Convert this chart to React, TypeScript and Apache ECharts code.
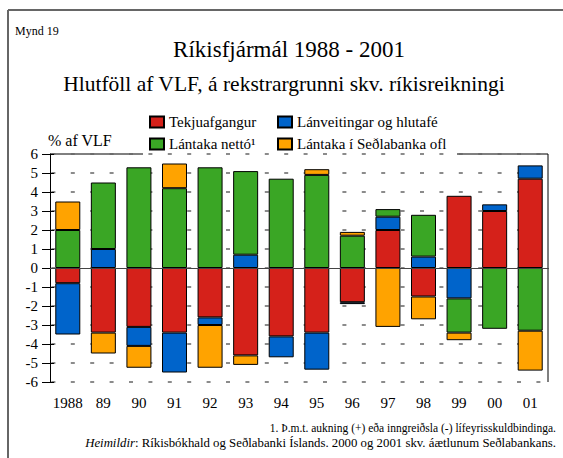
import React, { useEffect, useRef } from "react";
import * as echarts from "echarts";

const categories = ["1988", "89", "90", "91", "92", "93", "94", "95", "96", "97", "98", "99", "00", "01"];
const tekjuafgangur = [-0.8, -3.4, -3.1, -3.4, -2.6, -4.6, -3.6, -3.4, -1.8, 2.0, -1.5, 3.8, 3.0, 4.7];
const lanveitingar = [-2.7, 1.0, -1.0, -2.1, -0.4, 0.7, -1.1, -1.95, -0.1, 0.7, 0.6, -1.6, 0.35, 0.7];
const lantakaNetto = [2.0, 3.5, 5.3, 4.2, 5.3, 4.4, 4.7, 4.9, 1.7, 0.4, 2.2, -1.8, -3.2, -3.3];
const lantakaSedlabanka = [1.5, -1.1, -1.15, 1.3, -2.25, -0.5, null, 0.3, 0.2, -3.1, -1.2, -0.4, null, -2.1];

const seriesNames = ["Tekjuafgangur", "Lánveitingar og hlutafé", "Lántaka nettó¹", "Lántaka í Seðlabanka ofl"];
const seriesColors = ["#D5211A", "#0064CB", "#3AA625", "#FFA300"];
const seriesData = [tekjuafgangur, lanveitingar, lantakaNetto, lantakaSedlabanka];

const FONT = "'Liberation Serif', 'Times New Roman', serif";

export default function App() {
  const ref = useRef<HTMLDivElement>(null);
  useEffect(() => {
    if (!ref.current) return;
    const chart = echarts.init(ref.current, null, { renderer: "svg" });
    const legendText = { fontFamily: FONT, fontSize: 15, color: "#000", lineHeight: 16 };
    const legendBase = {
      orient: "vertical",
      top: 114,
      padding: 0,
      itemWidth: 14,
      itemHeight: 11,
      itemGap: 6,
      icon: "rect",
      textStyle: legendText,
      selectedMode: false,
    };
    chart.setOption({
      animation: false,
      backgroundColor: "#fff",
      textStyle: { fontFamily: FONT },
      grid: { left: 50, right: 15, top: 154, bottom: 76 },
      legend: [
        { ...legendBase, left: 149, data: [seriesNames[0], seriesNames[2]] },
        { ...legendBase, left: 277, data: [seriesNames[1], seriesNames[3]] },
      ],
      xAxis: {
        type: "category",
        data: categories,
        axisLine: { lineStyle: { color: "#000", width: 1 } },
        axisTick: { alignWithLabel: true, inside: true, length: 6, interval: 0, lineStyle: { color: "#000" } },
        axisLabel: { fontFamily: FONT, fontSize: 15, color: "#000", margin: 13, interval: 0 },
        splitLine: { show: false },
      },
      yAxis: [
        {
          type: "value",
          min: -6,
          max: 6,
          interval: 1,
          axisLine: { show: true, lineStyle: { color: "#000", width: 1 } },
          axisTick: { show: true, length: 8, lineStyle: { color: "#000" } },
          axisLabel: { fontFamily: FONT, fontSize: 15, color: "#000", margin: 12 },
          splitLine: {
            show: true,
            lineStyle: { color: "#666", width: 1.5, type: [4, 15.4], dashOffset: 17.8 },
          },
        },
        {
          type: "value",
          min: -6,
          max: 6,
          interval: 1,
          position: "left",
          axisLine: { show: false },
          axisTick: { show: true, inside: true, length: 4, lineStyle: { color: "#000" } },
          axisLabel: { show: false },
          splitLine: { show: false },
        },
      ],
      series: seriesData.map((d, i) => ({
        name: seriesNames[i],
        type: "bar",
        stack: "total",
        barWidth: 25,
        data: d,
        itemStyle: { color: seriesColors[i], borderColor: "#000", borderWidth: 1 },
        ...(i === 0
          ? {
              markLine: {
                silent: true,
                symbol: "none",
                label: { show: false },
                lineStyle: { color: "#444", type: "solid", width: 1 },
                data: [{ yAxis: 0 }],
                z: 10,
              },
            }
          : {}),
      })),
      graphic: [
        { type: "line", shape: { x1: 8, y1: 10, x2: 563, y2: 10 }, style: { stroke: "#666", lineWidth: 2 } },
        { type: "line", shape: { x1: 8, y1: 10, x2: 8, y2: 458 }, style: { stroke: "#666", lineWidth: 2 } },
        { type: "line", shape: { x1: 50, y1: 154, x2: 143, y2: 154 }, style: { stroke: "#000", lineWidth: 1 } },
        { type: "line", shape: { x1: 457, y1: 154, x2: 548, y2: 154 }, style: { stroke: "#000", lineWidth: 1 } },
        { type: "line", shape: { x1: 548, y1: 154, x2: 548, y2: 382 }, style: { stroke: "#000", lineWidth: 1 } },
        {
          type: "text",
          x: 15,
          y: 31,
          style: { text: "Mynd 19", fontFamily: FONT, fontSize: 12, fill: "#000", verticalAlign: "middle" },
        },
        {
          type: "text",
          x: 289,
          y: 49,
          style: {
            text: "Ríkisfjármál 1988 - 2001",
            fontFamily: FONT,
            fontSize: 23,
            fill: "#000",
            align: "center",
            verticalAlign: "middle",
          },
        },
        {
          type: "text",
          x: 284,
          y: 84,
          style: {
            text: "Hlutföll af VLF, á rekstrargrunni skv. ríkisreikningi",
            fontFamily: FONT,
            fontSize: 21.5,
            fill: "#000",
            align: "center",
            verticalAlign: "middle",
          },
        },
        {
          type: "text",
          x: 48,
          y: 140,
          style: { text: "% af VLF", fontFamily: FONT, fontSize: 16, fill: "#000", verticalAlign: "middle" },
        },
        {
          type: "text",
          x: 556,
          y: 428,
          style: {
            text: "1. Þ.m.t. aukning (+) eða inngreiðsla (-) lífeyrisskuldbindinga.",
            fontFamily: FONT,
            fontSize: 11.5,
            fill: "#000",
            align: "right",
            verticalAlign: "middle",
          },
        },
        {
          type: "text",
          x: 556,
          y: 443,
          style: {
            text: "{i|Heimildir}{n|: Ríkisbókhald og Seðlabanki Íslands. 2000 og 2001 skv. áætlunum Seðlabankans.}",
            fontFamily: FONT,
            fontSize: 12.8,
            fill: "#000",
            align: "right",
            verticalAlign: "middle",
            rich: {
              i: { fontFamily: FONT, fontSize: 12.8, fontStyle: "italic", fill: "#000" },
              n: { fontFamily: FONT, fontSize: 12.8, fill: "#000" },
            },
          },
        },
      ],
    });
    return () => chart.dispose();
  }, []);
  return (
    <div
      ref={ref}
      style={{ position: "absolute", left: 0, top: 0, width: 563, height: 458 }}
    />
  );
}
